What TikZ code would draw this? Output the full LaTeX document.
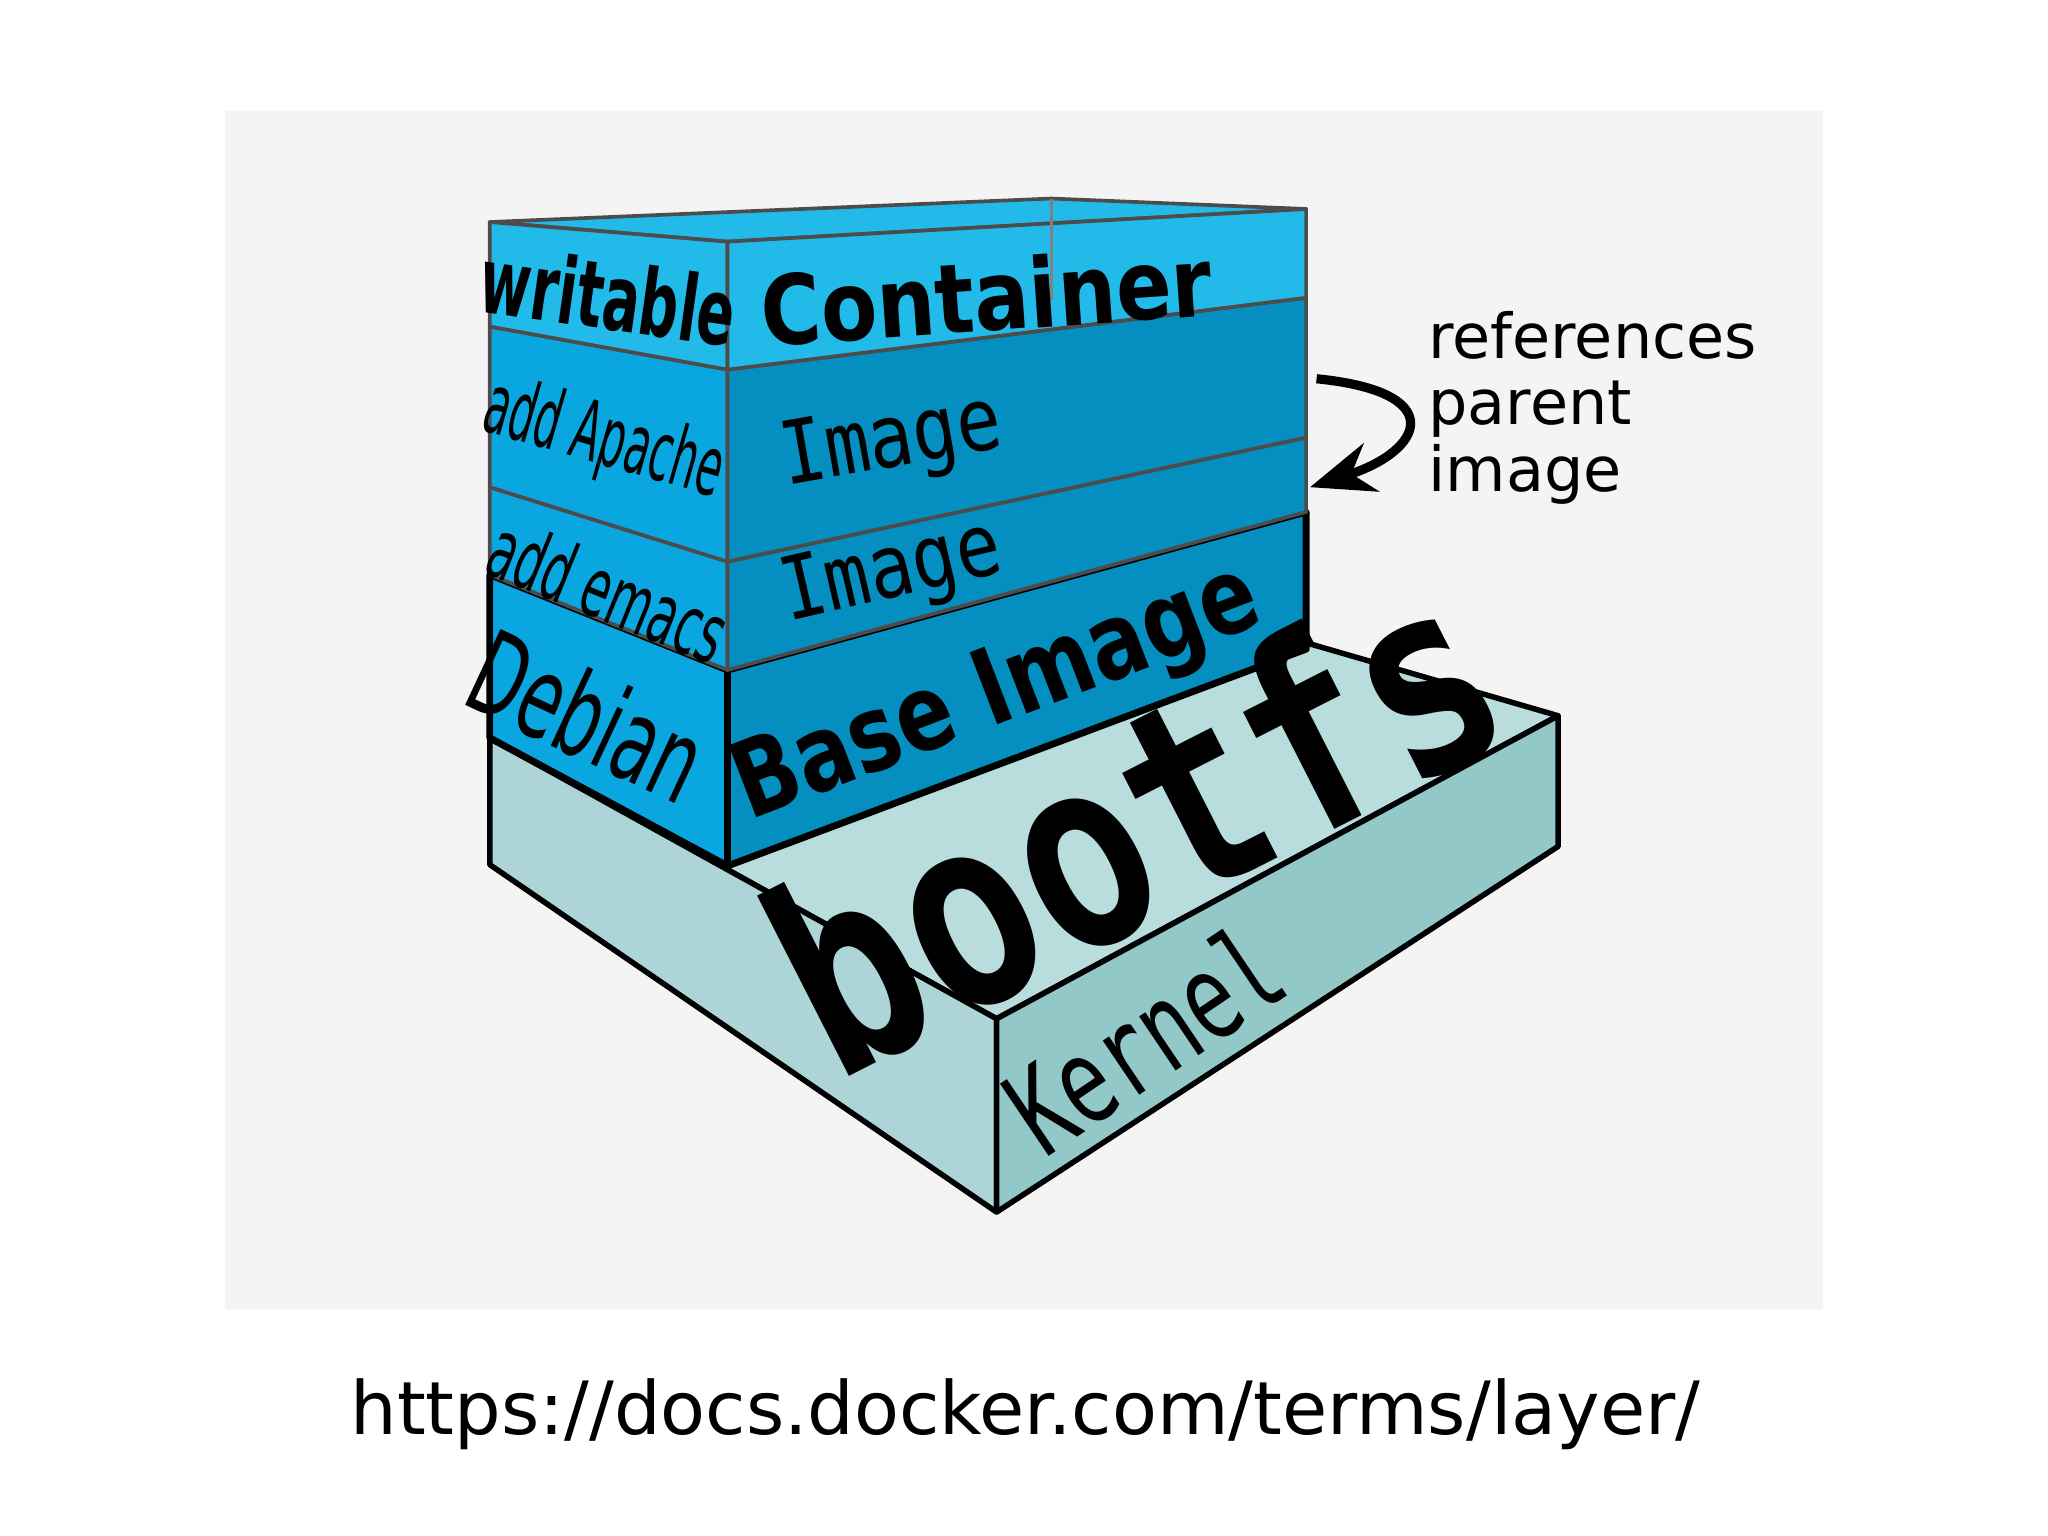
\documentclass[tikz,border=0pt]{standalone}
\usepackage{fontspec}
\setmainfont{DejaVu Sans}
\newfontfamily\monof{DejaVu Sans Mono}
\newfontfamily\condf{DejaVu Sans}
\usetikzlibrary{arrows.meta}
\newcommand{\sqz}[2]{\scalebox{#1}[1]{#2}}
\begin{document}
\begin{tikzpicture}[x=0.01cm,y=-0.01cm,line join=round,
  lface/.style={fill=lcol,draw=black!70,line width=0.8pt},
  rface/.style={fill=rcol,draw=black!70,line width=0.8pt},
  lbl/.style={inner sep=0pt,font=\condf\bfseries},
  mono/.style={inner sep=0pt,font=\monof}]
\definecolor{lcol}{HTML}{0AA6E0}
\definecolor{rcol}{HTML}{058FC0}
\definecolor{ccol}{HTML}{22BAE8}
\definecolor{kfront}{HTML}{ADD4D6}
\definecolor{kright}{HTML}{93C8C8}
\definecolor{ktop}{HTML}{B9DCDC}
\definecolor{bg}{HTML}{F4F4F4}
\useasboundingbox (0,0) rectangle (1568,1176);
\fill[white] (0,0) rectangle (1568,1176);
\fill[bg] (172,85) rectangle (1396,1002);
% kernel
\draw[fill=ktop,line width=1.2pt] (375,565) -- (820,440) -- (1193,548) -- (763,780) -- cycle;
\draw[fill=kfront,line width=1.2pt] (375,565) -- (763,780) -- (763,928) -- (375,662) -- cycle;
\draw[fill=kright,line width=1.2pt] (763,780) -- (1193,548) -- (1193,648) -- (763,928) -- cycle;
% debian
\draw[lface,line width=1.5pt,draw=black] (375,440) -- (557,513) -- (557,663) -- (375,565) -- cycle;
\draw[rface,line width=1.5pt,draw=black] (557,513) -- (1000,392) -- (1000,497) -- (557,663) -- cycle;
% emacs
\draw[lface] (375,373) -- (557,430) -- (557,513) -- (375,440) -- cycle;
\draw[rface] (557,430) -- (1000,335) -- (1000,392) -- (557,513) -- cycle;
% apache
\draw[lface] (375,250) -- (557,283) -- (557,430) -- (375,373) -- cycle;
\draw[rface] (557,283) -- (1000,228) -- (1000,335) -- (557,430) -- cycle;
% container
\draw[fill=ccol,draw=black!70,line width=0.8pt] (375,170) -- (805,152) -- (1000,160) -- (557,185) -- cycle;
\draw[fill=ccol,draw=black!70,line width=0.8pt] (375,170) -- (557,185) -- (557,283) -- (375,250) -- cycle;
\draw[fill=ccol,draw=black!70,line width=0.8pt] (557,185) -- (1000,160) -- (1000,228) -- (557,283) -- cycle;
\draw[black!50,line width=0.6pt] (805,152) -- (805,230);
% labels
\node[lbl,font=\condf\bfseries\fontsize{20}{20}\selectfont,rotate=-8] (w) at (466,226) {\sqz{0.6}{writable}};
\node[lbl,font=\condf\bfseries\fontsize{21}{21}\selectfont,rotate=4] (c) at (755,226) {\sqz{0.85}{Container}};
\node[lbl,font=\condf\fontsize{18}{18}\selectfont,rotate=-16] (a) at (462,338) {\sqz{0.5}{add Apache}};
\node[mono,font=\monof\fontsize{19}{19}\selectfont,rotate=10] (i1) at (683,340) {\sqz{0.85}{Image}};
\node[lbl,font=\condf\fontsize{18}{18}\selectfont,rotate=-22] (e) at (466,452) {\sqz{0.55}{add emacs}};
\node[mono,font=\monof\fontsize{19}{19}\selectfont,rotate=13] (i2) at (683,440) {\sqz{0.85}{Image}};
\node[lbl,font=\condf\fontsize{25}{25}\selectfont,rotate=-25] (d) at (450,548) {\sqz{0.6}{Debian}};
\node[lbl,font=\condf\bfseries\fontsize{23}{23}\selectfont,rotate=21] (b) at (764,533) {\sqz{0.8}{Base Image}};
\node[lbl,font=\monof\bfseries\fontsize{58}{58}\selectfont,rotate=27] (bf) at (868,628) {\sqz{0.8}{bootfs}};
\node[mono,font=\monof\fontsize{26}{26}\selectfont,rotate=34] (k) at (876,795) {\sqz{0.7}{Kernel}};
% right text
\node[anchor=west,inner sep=0pt,font=\fontsize{13.5}{14.5}\selectfont,align=left] (r) at (1093,312) {references\\parent\\image};
\draw[-{Stealth[length=14pt,width=11pt]},line width=2pt] (1008,290) .. controls (1110,300) and (1090,345) .. (1003,373);
% url
\node[inner sep=0pt,font=\fontsize{16}{16}\selectfont] (u) at (785,1083) {https://docs.docker.com/terms/layer/};
\end{tikzpicture}
\end{document}
